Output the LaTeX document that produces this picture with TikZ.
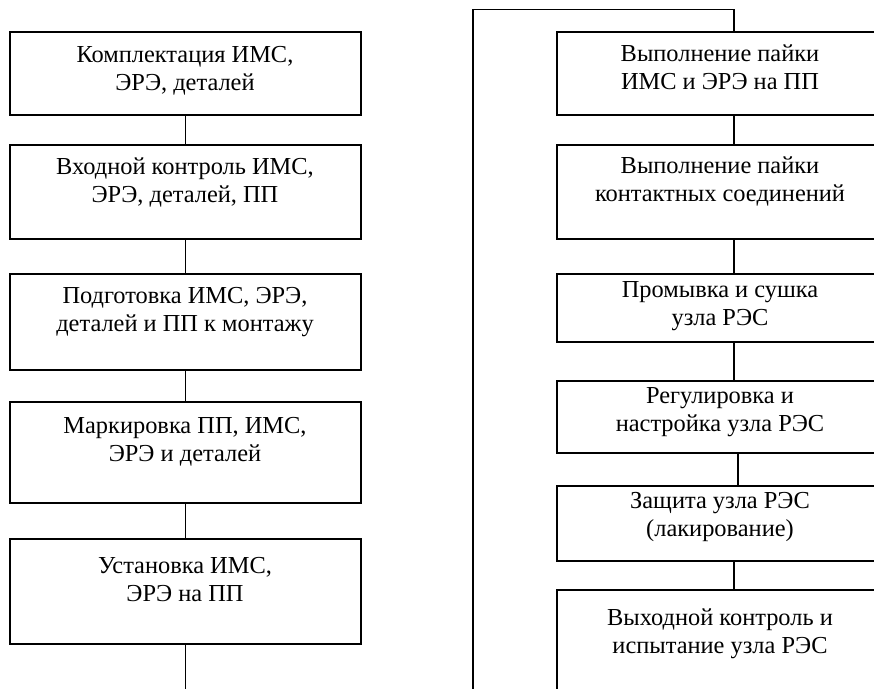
\documentclass[tikz,border=0pt]{standalone}
\usepackage{fontspec}
\setmainfont{Liberation Serif}
\newcommand\firststrut{\rule{0pt}{18pt}}
\begin{document}
\begin{tikzpicture}[x=1pt,y=-1pt,
  box/.style={draw,line width=2pt,rectangle,inner sep=0pt},
  lbox/.style={box,minimum width=351pt},
  rbox/.style={box,minimum width=354pt},
  txt/.style={anchor=north,inner sep=0pt,align=center,
    font=\fontsize{24.4}{28.5}\selectfont},
  conn/.style={line width=1.5pt}]
\useasboundingbox (0,0) rectangle (874,688);
\clip (0,0) rectangle (874,688);

% left column
\node[lbox,minimum height=83pt]  (L1) at (185.5,73.5)  {};
\node[lbox,minimum height=94pt]  (L2) at (185.5,192)   {};
\node[lbox,minimum height=96pt]  (L3) at (185.5,322)   {};
\node[lbox,minimum height=101pt] (L4) at (185.5,452.5) {};
\node[lbox,minimum height=105pt] (L5) at (185.5,591.5) {};

\node[txt] (tL1) at (185,44)  {\firststrut Комплектация ИМС,\\ЭРЭ, деталей};
\node[txt] (tL2) at (185,156) {\firststrut Входной контроль ИМС,\\ЭРЭ, деталей, ПП};
\node[txt] (tL3) at (185,285) {\firststrut Подготовка ИМС, ЭРЭ,\\деталей и ПП к монтажу};
\node[txt] (tL4) at (185,415) {\firststrut Маркировка ПП, ИМС,\\ЭРЭ и деталей};
\node[txt] (tL5) at (185,555) {\firststrut Установка ИМС,\\ЭРЭ на ПП};

% right column
\node[rbox,minimum height=83pt]  (R1) at (734,73.5)  {};
\node[rbox,minimum height=94pt]  (R2) at (734,192)   {};
\node[rbox,minimum height=68pt]  (R3) at (734,308)   {};
\node[rbox,minimum height=72pt]  (R4) at (734,417)   {};
\node[rbox,minimum height=75pt]  (R5) at (734,523.5) {};
\node[rbox,minimum height=140pt] (R6) at (734,660)   {};

\node[txt] (tR1) at (720,43)  {\firststrut Выполнение пайки\\ИМС и ЭРЭ на ПП};
\node[txt] (tR2) at (720,155) {\firststrut Выполнение пайки\\контактных соединений};
\node[txt] (tR3) at (720,279) {\firststrut Промывка и сушка\\узла РЭС};
\node[txt] (tR4) at (720,385) {\firststrut Регулировка и\\настройка узла РЭС};
\node[txt] (tR5) at (720,490) {\firststrut Защита узла РЭС\\(лакирование)};
\node[txt] (tR6) at (720,607) {\firststrut Выходной контроль и\\испытание узла РЭС};

% connectors
\draw[conn] (L1.south) -- (L2.north);
\draw[conn] (L2.south) -- (L3.north);
\draw[conn] (L3.south) -- (L4.north);
\draw[conn] (L4.south) -- (L5.north);
\coordinate (Lend) at (185.5,690);
\draw[conn] (L5.south) -- (Lend);

\coordinate (Rstart) at (473,690);
\coordinate (Rtop) at (734,9.5);
\draw[conn] (Rstart) |- (Rtop) -- (R1.north);
\draw[conn] (R1.south) -- (R2.north);
\draw[conn] (R2.south) -- (R3.north);
\draw[conn] (R3.south) -- (R4.north);
\draw[conn] ([xshift=4pt]R4.south) -- ([xshift=4pt]R5.north);
\draw[conn] (R5.south) -- (R6.north);
\end{tikzpicture}
\end{document}
